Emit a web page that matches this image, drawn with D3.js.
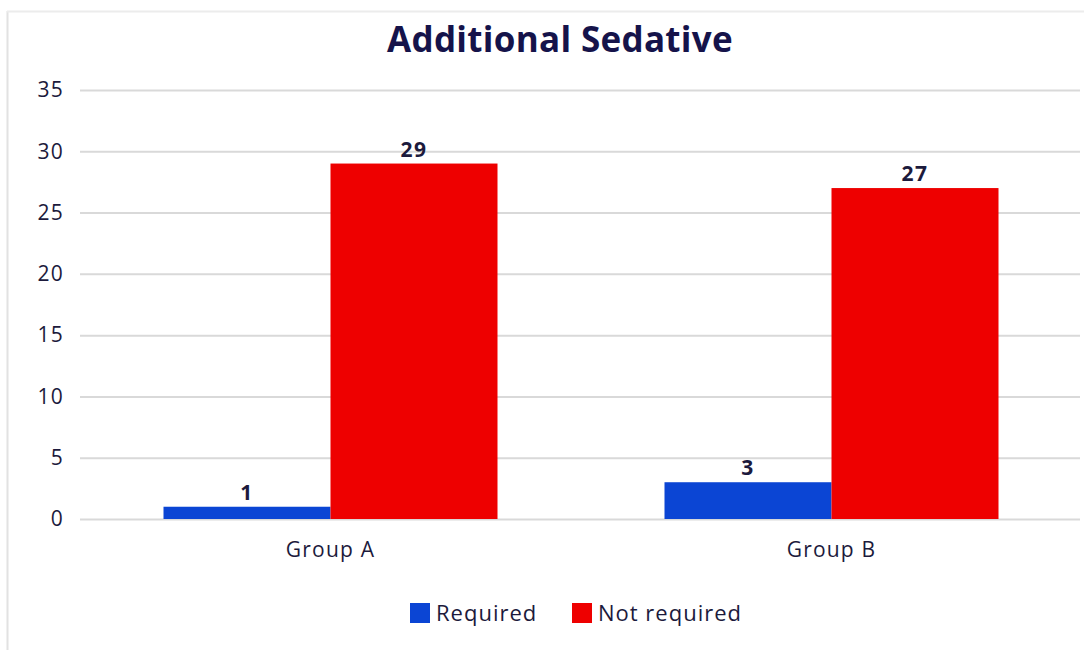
<!DOCTYPE html>
<html><head><meta charset="utf-8">
<script src="https://cdn.jsdelivr.net/npm/d3@7"></script>
<style>body{margin:0;background:#fff}svg{display:block}</style>
</head><body><svg id="c" width="1084" height="650"></svg>
<script>
const title = "Additional Sedative";
const categories = ["Group A", "Group B"];
const seriesNames = ["Required", "Not required"];
const required = [1, 3];
const notRequired = [29, 27];
const yTicks = [0, 5, 10, 15, 20, 25, 30, 35];
const colors = ["#0b45d4", "#ee0000"];

const svg = d3.select("#c");
const font = "'Open Sans', 'Noto Sans', sans-serif";
const textCol = "#1c1a3c";
// frame
svg.append("line").attr("x1",7.5).attr("x2",7.5).attr("y1",11).attr("y2",650).attr("stroke","#e2e2e2").attr("stroke-width",2);
svg.append("line").attr("x1",7).attr("x2",1084).attr("y1",11.5).attr("y2",11.5).attr("stroke","#ececec").attr("stroke-width",2);

const x0 = d3.scaleBand().domain(categories).range([80, 1082]).paddingInner(1/3).paddingOuter(1/6);
const x1 = d3.scaleBand().domain(seriesNames).range([0, x0.bandwidth()]);
const y = d3.scaleLinear().domain([0, 35]).range([519, 90]);

const data = categories.map((c,i)=>({cat:c, vals:[required[i], notRequired[i]]}));

// grid
const yAxis = d3.axisLeft(y).tickValues(yTicks).tickSize(-1000).tickPadding(16);
const gy = svg.append("g").attr("transform","translate(80,0)").call(yAxis);
gy.select(".domain").remove();
gy.selectAll(".tick line").attr("stroke","#d9d9d9").attr("stroke-width",2);
gy.selectAll(".tick text").attr("font-family",font).attr("font-size",21).attr("letter-spacing",1.2).attr("fill",textCol);

// bars
const groups = svg.append("g").selectAll("g").data(data).join("g")
  .attr("transform", d=>`translate(${x0(d.cat)},0)`);
groups.selectAll("rect").data(d=>d.vals.map((v,j)=>({v, s:seriesNames[j], j})))
  .join("rect")
  .attr("x", d=>x1(d.s)).attr("width", x1.bandwidth())
  .attr("y", d=>y(d.v)).attr("height", d=>y(0)-y(d.v))
  .attr("fill", d=>colors[d.j]);
groups.selectAll("text").data(d=>d.vals.map((v,j)=>({v, s:seriesNames[j], j})))
  .join("text")
  .attr("x", d=>x1(d.s)+x1.bandwidth()/2).attr("y", d=>y(d.v)-7)
  .attr("text-anchor","middle").attr("font-family",font).attr("font-weight","bold")
  .attr("font-size",21).attr("letter-spacing",1.5).attr("fill",textCol).text(d=>d.v);

// x axis labels
const xAxis = d3.axisBottom(x0).tickSize(0).tickPadding(23);
const gx = svg.append("g").attr("transform","translate(0,519)").call(xAxis);
gx.select(".domain").remove();
gx.selectAll(".tick text").attr("font-family",font).attr("font-size",21).attr("letter-spacing",1.2).attr("fill",textCol);

// title
svg.append("text").attr("x",560).attr("y",52).attr("text-anchor","middle")
  .attr("font-family",font).attr("font-weight","bold").attr("font-size",35).attr("letter-spacing",0.3).attr("fill","#15134a").text(title);

// legend
const leg = [{x:410},{x:572}];
seriesNames.forEach((s,i)=>{
  const g = svg.append("g").attr("transform",`translate(${leg[i].x},603)`);
  g.append("rect").attr("width",20).attr("height",20).attr("fill",colors[i]);
  g.append("text").attr("x",26).attr("y",18).attr("font-family",font).attr("font-size",22).attr("letter-spacing",1).attr("fill",textCol).text(s);
});
</script></body></html>
